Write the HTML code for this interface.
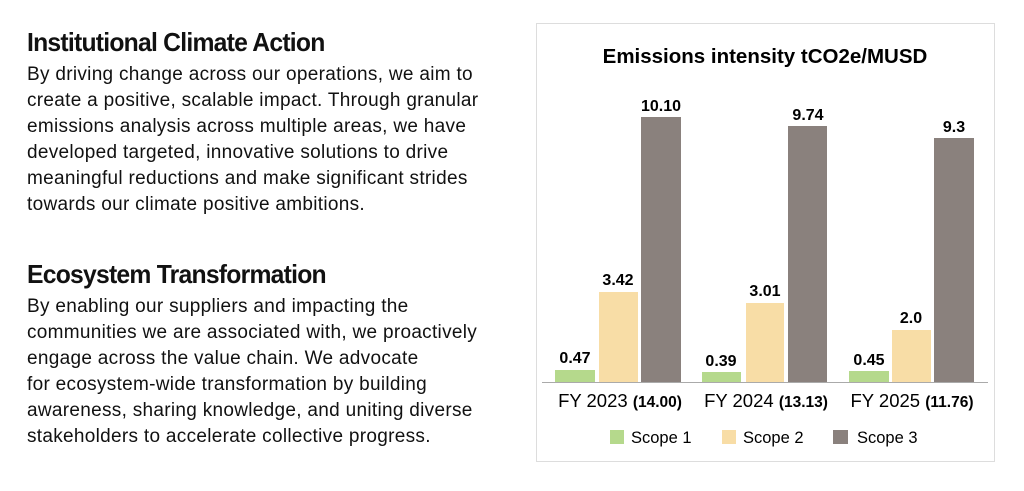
<!DOCTYPE html>
<html><head><style>
body{margin:0;width:1024px;height:491px;background:#fff;font-family:"Liberation Sans",sans-serif;color:#111;position:relative;overflow:hidden}
.h{position:absolute;left:27px;font-weight:bold;font-size:26px;letter-spacing:-0.8px;transform:scaleX(0.95);transform-origin:left}
.p{position:absolute;left:27px;font-size:19px;line-height:26px;white-space:nowrap;letter-spacing:0.3px}
</style></head><body>
<div class="h" style="top:27px">Institutional Climate Action</div>
<div class="p" style="top:62px">By driving change across our operations, we aim to<br>create a positive, scalable impact. Through granular<br>emissions analysis across multiple areas, we have<br>developed targeted, innovative solutions to drive<br>meaningful reductions and make significant strides<br>towards our climate positive ambitions.</div>
<div class="h" style="top:259px">Ecosystem Transformation</div>
<div class="p" style="top:294px">By enabling our suppliers and impacting the<br>communities we are associated with, we proactively<br>engage across the value chain. We advocate<br>for ecosystem-wide transformation by building<br>awareness, sharing knowledge, and uniting diverse<br>stakeholders to accelerate collective progress.</div>
<svg width="1024" height="491" style="position:absolute;left:0;top:0" font-family="Liberation Sans, sans-serif">
<rect x="536.5" y="23.5" width="458" height="438" fill="#fff" stroke="#ddd"/>
<text x="765" y="63" text-anchor="middle" font-size="20.5" font-weight="bold">Emissions intensity tCO2e/MUSD</text>
<g fill="#b5d98c"><rect x="555" y="370" width="40" height="12"/><rect x="702" y="372" width="39" height="10"/><rect x="849" y="371" width="40" height="11"/></g>
<g fill="#f8dda6"><rect x="599" y="292" width="39" height="90"/><rect x="746" y="303" width="38" height="79"/><rect x="892" y="330" width="39" height="52"/></g>
<g fill="#8a817d"><rect x="641" y="117" width="40" height="265"/><rect x="788" y="126" width="39" height="256"/><rect x="934" y="138" width="40" height="244"/></g>
<line x1="542" y1="382.5" x2="988" y2="382.5" stroke="#aaa" stroke-width="1"/>
<g font-size="16" font-weight="bold" text-anchor="middle">
<text x="575" y="363">0.47</text><text x="618" y="285">3.42</text><text x="661" y="111">10.10</text>
<text x="721" y="366">0.39</text><text x="765" y="296">3.01</text><text x="808" y="120">9.74</text>
<text x="869" y="365">0.45</text><text x="911" y="323">2.0</text><text x="954" y="132">9.3</text>
</g>
<g font-size="18.5" text-anchor="middle">
<text x="620" y="407">FY 2023 <tspan font-size="15.5" font-weight="bold">(14.00)</tspan></text>
<text x="766" y="407">FY 2024 <tspan font-size="15.5" font-weight="bold">(13.13)</tspan></text>
<text x="912" y="407">FY 2025 <tspan font-size="15.5" font-weight="bold">(11.76)</tspan></text>
</g>
<rect x="610" y="430" width="14" height="14" fill="#b5d98c"/><text x="631" y="443" font-size="16.5">Scope 1</text>
<rect x="722" y="430" width="14" height="14" fill="#f8dda6"/><text x="743" y="443" font-size="16.5">Scope 2</text>
<rect x="833" y="430" width="15" height="14" fill="#8a817d"/><text x="857" y="443" font-size="16.5">Scope 3</text>
</svg>
</body></html>
